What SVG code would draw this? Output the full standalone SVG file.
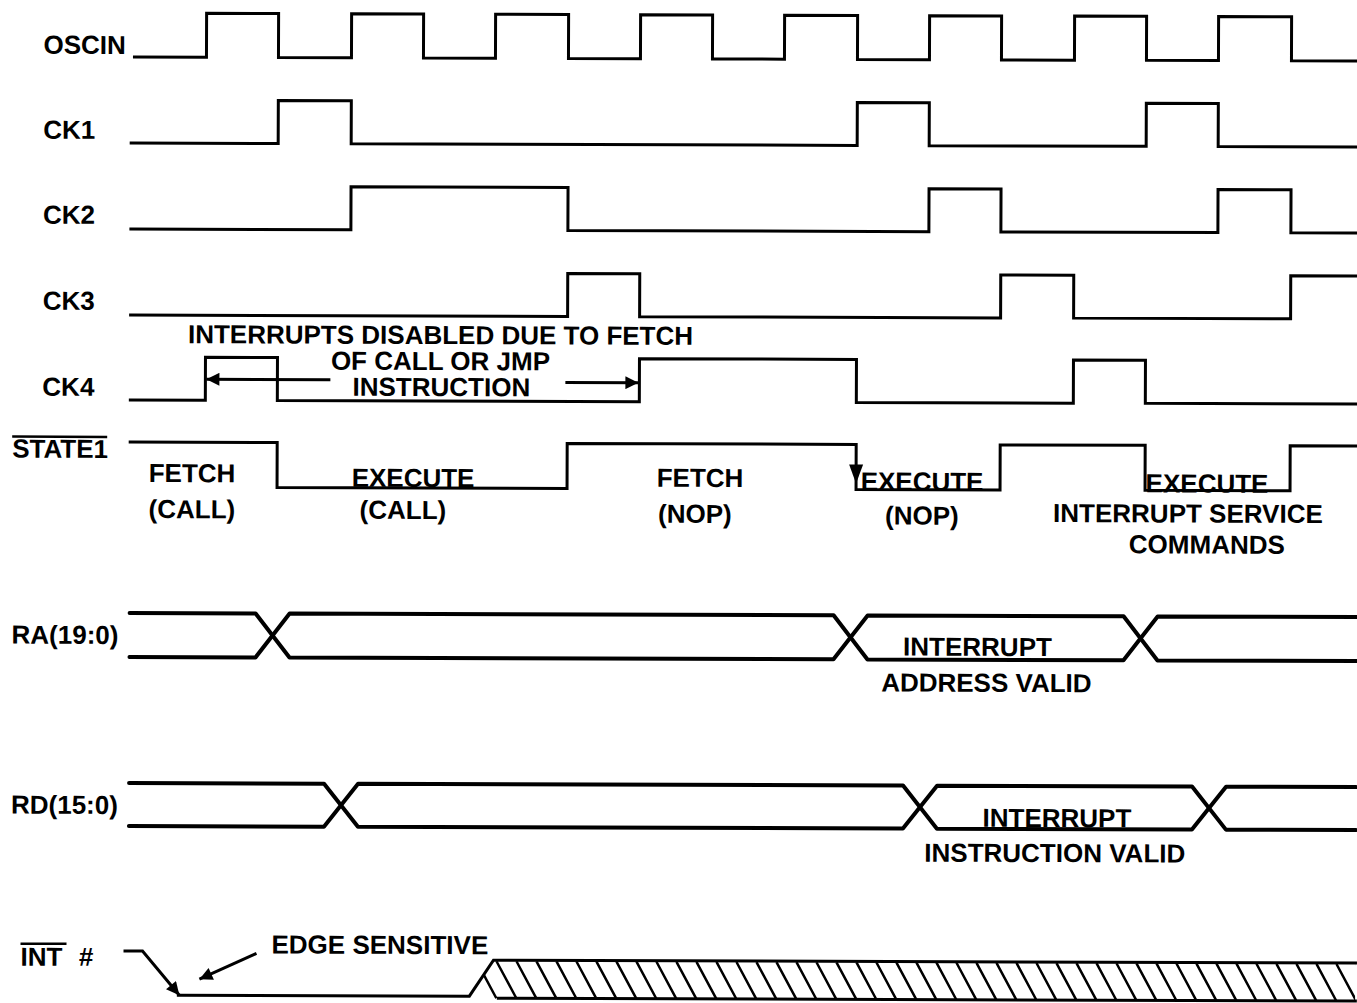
<svg xmlns="http://www.w3.org/2000/svg" width="1357" height="1003" viewBox="0 0 1357 1003">
<style>
text{font-family:"Liberation Sans",Arial,sans-serif;font-weight:bold;font-size:26px;fill:#000}
.m{text-anchor:middle}
.w{fill:none;stroke:#000;stroke-width:3;stroke-linejoin:miter;stroke-linecap:square}
.b{fill:none;stroke:#000;stroke-width:4;stroke-linejoin:round;stroke-linecap:round}
.h{fill:none;stroke:#000;stroke-width:2.5}
.a{fill:none;stroke:#000;stroke-width:3}
</style>
<defs>
<marker id="ah" viewBox="0 0 10 10" refX="10" refY="5" markerUnits="userSpaceOnUse" markerWidth="17" markerHeight="13" orient="auto">
<path d="M0 0L10 5L0 10z" fill="#000"/>
</marker>
<clipPath id="band"><polygon points="495,959 1357,959 1357,998 471,998"/></clipPath>
</defs>
<rect width="1357" height="1003" fill="#fff"/>
<g transform="rotate(0.19 130 500)">
<g id="oscin"><text x="42" y="54">OSCIN</text>
<path class="w" d="M133 57H205V13H277V57H350V13H422V57H494V13H567V57H639V13H711V57H783V13H856V57H928V13H1000V57H1073V13H1145V57H1217V13H1290V57H1357"/></g>
<g id="ck1"><text x="42" y="139">CK1</text>
<path class="w" d="M130 143H277V100H350V143H856V100H928V143H1145V100H1217V143H1357"/></g>
<g id="ck2"><text x="42" y="224">CK2</text>
<path class="w" d="M130 229H350V186H567V229H928V186H1000V229H1217V186H1290V229H1357"/></g>
<g id="ck3"><text x="42" y="310">CK3</text>
<path class="w" d="M130 315H567V272H639V315H1000V272H1073V315H1290V272H1357"/></g>
<g id="ck4"><text x="42" y="396">CK4</text>
<path class="w" d="M130 400H205V357H277V400H639V357H856V400H1073V357H1145V400H1357"/></g>
<g id="state1"><text x="12" y="458">STATE1</text>
<line x1="12" y1="437" x2="107" y2="437" stroke="#000" stroke-width="2.5"/>
<path class="w" d="M130 442H277V487H567V442H856V487H1000V442H1145V487H1290V442H1357"/>
<polygon points="849,462 863,462 856,481" fill="#000"/>
<text class="m" x="192" y="482">FETCH</text><text class="m" x="192" y="518">(CALL)</text>
<text class="m" x="413" y="486">EXECUTE</text><text class="m" x="403" y="518">(CALL)</text>
<text class="m" x="700" y="485">FETCH</text><text class="m" x="695" y="521">(NOP)</text>
<text class="m" x="922" y="488">EXECUTE</text><text class="m" x="922" y="522">(NOP)</text>
<text class="m" x="1207" y="489">EXECUTE</text><text class="m" x="1188" y="519">INTERRUPT SERVICE</text><text class="m" x="1207" y="550">COMMANDS</text></g>
<g id="ra"><text x="12" y="644">RA(19:0)</text>
<path class="b" d="M130 613H256L290 657H834L868 613H1124L1158 657H1357"/>
<path class="b" d="M130 657H256L290 613H834L868 657H1124L1158 613H1357"/>
<text class="m" x="978" y="653">INTERRUPT</text><text class="m" x="987" y="689">ADDRESS VALID</text></g>
<g id="rd"><text x="12" y="814">RD(15:0)</text>
<path class="b" d="M130 783H325L359 826H904L938 783H1193L1227 826H1357"/>
<path class="b" d="M130 826H325L359 783H904L938 826H1193L1227 783H1357"/>
<text class="m" x="1058" y="824">INTERRUPT</text><text class="m" x="1056" y="859">INSTRUCTION VALID</text></g>
<g id="int"><text x="22" y="966">INT</text>
<line x1="22" y1="944" x2="68" y2="944" stroke="#000" stroke-width="2.5"/>
<text x="80" y="966" font-style="italic">#</text>
<path class="w" d="M180 995H471L495 959H1357"/>
<path class="w" d="M500 997H1357"/>
<g clip-path="url(#band)"><path class="h" d="M478 960l20 37M498 960l20 37M518 960l20 37M538 960l20 37M558 960l20 37M578 960l20 37M598 960l20 37M618 960l20 37M638 960l20 37M658 960l20 37M678 960l20 37M698 960l20 37M718 960l20 37M738 960l20 37M758 960l20 37M778 960l20 37M798 960l20 37M818 960l20 37M838 960l20 37M858 960l20 37M878 960l20 37M898 960l20 37M918 960l20 37M938 960l20 37M958 960l20 37M978 960l20 37M998 960l20 37M1018 960l20 37M1038 960l20 37M1058 960l20 37M1078 960l20 37M1098 960l20 37M1118 960l20 37M1138 960l20 37M1158 960l20 37M1178 960l20 37M1198 960l20 37M1218 960l20 37M1238 960l20 37M1258 960l20 37M1278 960l20 37M1298 960l20 37M1318 960l20 37M1338 960l20 37M1358 960l20 37"/></g>
<text x="273" y="953">EDGE SENSITIVE</text></g>
<g id="interrupts-note">
<text class="m" x="440" y="343">INTERRUPTS DISABLED DUE TO FETCH</text>
<text class="m" x="440" y="369">OF CALL OR JMP</text>
<text class="m" x="441" y="395">INSTRUCTION</text></g>
<g id="connectors">
<line class="a" x1="330" y1="379" x2="206" y2="379" marker-end="url(#ah)"/>
<line class="a" x1="565" y1="381" x2="638" y2="381" marker-end="url(#ah)"/>
<line class="a" x1="258" y1="953" x2="201" y2="979" marker-end="url(#ah)"/>
<path class="a" d="M125 951H144L181 995" marker-end="url(#ah)"/>
</g>
</g>
</svg>
